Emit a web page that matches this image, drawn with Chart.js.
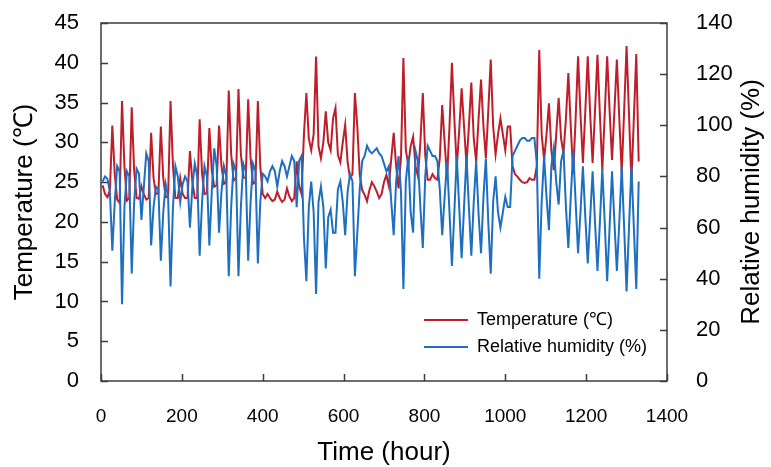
<!DOCTYPE html>
<html>
<head>
<meta charset="utf-8">
<script src="https://cdn.jsdelivr.net/npm/chart.js@4.4.1/dist/chart.umd.min.js"></script>
<style>
  html, body { margin: 0; padding: 0; background: #fff; }
  #wrap { width: 771px; height: 467px; }
</style>
</head>
<body>
<div id="wrap"><canvas id="chart" width="771" height="467"></canvas></div>
<script>
// readings every 6 hours, first one at hour 4 (four readings per day)
const startHour = 4;
const stepHours = 6;

// temperature (℃)
const temperature = [
  24.6, 23.5, 23.1, 24.0,   32.1, 26.0, 22.8, 22.4,   35.2, 27.0, 22.7, 23.0,
  34.4, 26.5, 23.0, 22.9,   24.5, 23.5, 22.8, 23.0,   31.2, 25.5, 23.5, 23.6,
  32.0, 25.5, 23.1, 23.2,   35.2, 27.0, 23.0, 23.0,   25.5, 23.5, 23.0, 23.0,
  28.9, 25.0, 23.0, 23.0,   32.9, 26.0, 23.5, 23.6,   31.8, 26.5, 24.4, 24.6,
  32.1, 27.0, 24.8, 25.0,   36.5, 28.5, 25.2, 25.5,   36.7, 28.5, 25.6, 25.5,
  35.4, 28.0, 24.8, 25.0,   35.2, 27.0, 23.5, 23.0,   23.5, 23.0, 22.6, 22.8,
  23.8, 23.0, 22.5, 22.8,   24.2, 23.2, 22.6, 23.0,   27.6, 24.5, 23.5, 31.0,
  36.2, 30.5, 29.0, 31.0,   40.8, 29.5, 28.0, 30.0,   33.9, 30.0, 29.0, 33.0,
  34.3, 28.4, 27.5, 30.0,   32.2, 27.5, 25.5, 26.0,   36.2, 32.0, 25.9, 24.0,
  23.4, 22.6, 24.0, 25.0,   24.5, 23.8, 23.0, 23.5,   25.0, 25.9, 24.5, 28.0,
  31.2, 27.0, 24.2, 28.0,   40.6, 29.0, 27.2, 29.5,   30.7, 27.0, 25.7, 30.0,
  36.2, 28.4, 25.3, 25.3,   26.0, 25.5, 25.3, 28.0,   34.7, 30.0, 25.5, 32.0,
  40.0, 33.0, 26.8, 31.5,   36.8, 32.0, 27.2, 32.0,   37.5, 30.5, 27.6, 33.0,
  37.9, 32.0, 28.0, 34.0,   40.4, 32.0, 28.5, 31.0,   33.0, 31.0, 29.0, 32.0,
  32.0, 27.0, 26.0, 25.7,   25.3, 25.0, 24.9, 25.0,   25.5, 25.3, 25.3, 27.0,
  41.6, 31.0, 27.8, 31.0,   34.9, 29.0, 26.5, 31.0,   35.6, 30.5, 28.6, 33.0,
  38.7, 32.0, 26.1, 33.0,   40.8, 33.5, 27.4, 34.0,   40.8, 33.5, 27.4, 34.0,
  41.0, 33.5, 26.5, 33.5,   40.8, 34.0, 27.8, 34.0,   40.4, 33.0, 26.1, 34.0,
  42.1, 33.5, 25.0, 33.0,   41.1, 27.6
];

// relative humidity (%)
const humidity = [
  78, 80, 79, 74,   51, 70, 84, 82,   30, 68, 82, 80,
  42, 70, 83, 81,   63, 76, 89, 86,   53, 68, 76, 75,
  47, 66, 77, 72,   37, 68, 84, 80,   70, 77, 80, 78,
  60, 76, 85, 80,   49, 70, 84, 80,   53, 74, 91, 84,
  58, 74, 84, 80,   41, 68, 85, 82,   41, 68, 85, 82,
  47, 70, 85, 82,   46, 70, 81, 80,   78, 82, 84, 82,
  76, 82, 86, 84,   80, 84, 88, 86,   68, 86, 88, 56,
  39, 68, 78, 66,   34, 70, 76, 68,   44, 64, 67, 58,
  58, 75, 78, 70,   57, 74, 81, 78,   41, 58, 75, 86,
  88, 92, 90, 89,   90, 91, 89, 88,   85, 82, 84, 70,
  57, 78, 88, 74,   36, 78, 88, 66,   58, 90, 86, 68,
  52, 80, 92, 90,   88, 88, 86, 75,   57, 72, 86, 66,
  45, 66, 88, 68,   48, 68, 88, 68,   49, 70, 86, 65,
  50, 72, 87, 62,   42, 70, 80, 66,   60, 66, 72, 68,
  68, 88, 90, 92,   94, 95, 95, 94,   94, 95, 95, 85,
  40, 70, 88, 72,   59, 84, 91, 78,   69, 86, 90, 68,
  52, 72, 90, 70,   50, 66, 84, 64,   46, 64, 82, 62,
  43, 62, 83, 62,   39, 60, 82, 62,   43, 62, 84, 60,
  35, 60, 84, 60,   36, 78
];

const hourTicks = [0, 200, 400, 600, 800, 1000, 1200, 1400];
const tempTicks = [0, 5, 10, 15, 20, 25, 30, 35, 40, 45];
const humidityTicks = [0, 20, 40, 60, 80, 100, 120, 140];

const hours = temperature.map((_, i) => startHour + i * stepHours);
const tempPoints = temperature.map((v, i) => ({ x: hours[i], y: v }));
const rhPoints = humidity.map((v, i) => ({ x: hours[i], y: v }));

const FONT = "'Liberation Sans', Arial, sans-serif";

// frame with inward tick marks, right-hand title and the in-plot legend
const framePlugin = {
    id: "frame",
    beforeDatasetsDraw(chart) {
        const { ctx, chartArea: a, scales } = chart;
        ctx.save();
        ctx.strokeStyle = "#3c3c3c";
        ctx.lineWidth = 1.5;
        ctx.strokeRect(a.left, a.top, a.right - a.left, a.bottom - a.top);
        ctx.beginPath();
        scales.x.ticks.forEach(t => {
            const p = Math.round(scales.x.getPixelForValue(t.value)) + 0.5;
            ctx.moveTo(p, a.bottom);
            ctx.lineTo(p, a.bottom - 7);
        });
        scales.y.ticks.forEach(t => {
            const p = Math.round(scales.y.getPixelForValue(t.value)) + 0.5;
            ctx.moveTo(a.left, p);
            ctx.lineTo(a.left + 7, p);
        });
        scales.y2.ticks.forEach(t => {
            const p = Math.round(scales.y2.getPixelForValue(t.value)) + 0.5;
            ctx.moveTo(a.right, p);
            ctx.lineTo(a.right - 7, p);
        });
        ctx.stroke();
        ctx.restore();
    },
    afterDraw(chart) {
        const { ctx, chartArea: a } = chart;
        ctx.save();
        // right axis title, reading bottom to top
        ctx.translate(752, (a.top + a.bottom) / 2);
        ctx.rotate(-Math.PI / 2);
        ctx.font = "26px " + FONT;
        ctx.fillStyle = "#000";
        ctx.textAlign = "center";
        ctx.textBaseline = "middle";
        ctx.fillText("Relative humidity (%)", 0, 0);
        ctx.restore();

        // legend
        ctx.save();
        ctx.font = "18px " + FONT;
        ctx.textBaseline = "middle";
        ctx.fillStyle = "#000";
        chart.data.datasets.forEach((ds, i) => {
            const y = a.bottom - 61 + i * 27;
            ctx.strokeStyle = ds.borderColor;
            ctx.lineWidth = 2;
            ctx.beginPath();
            ctx.moveTo(a.right - 243, y);
            ctx.lineTo(a.right - 199, y);
            ctx.stroke();
            ctx.fillText(ds.label, a.right - 190, y);
        });
        ctx.restore();
    }
};

// keep label spacing from pushing the plot area down
const fitSide = w => s => { s.width = w; s.paddingTop = 0; s.paddingBottom = 0; };

new Chart(document.getElementById("chart"), {
    type: "line",
    data: {
        datasets: [{
            label: "Temperature (℃)",
            data: tempPoints,
            yAxisID: "y",
            borderColor: "#BE1E2A",
            borderWidth: 2,
            pointRadius: 0,
            tension: 0,
            order: 1
        }, {
            label: "Relative humidity (%)",
            data: rhPoints,
            yAxisID: "y2",
            borderColor: "#1E6FBF",
            borderWidth: 2,
            pointRadius: 0,
            tension: 0,
            order: 0
        }]
    },
    options: {
        responsive: false,
        animation: false,
        layout: { padding: { top: 23, left: 0, right: 0, bottom: 0 } },
        plugins: { legend: { display: false }, tooltip: { enabled: false } },
        scales: {
            x: {
                type: "linear",
                min: 0,
                max: 1400,
                afterBuildTicks: s => { s.ticks = hourTicks.map(v => ({ value: v })); },
                afterFit: s => { s.height = 86; },
                grid: { display: false, drawTicks: false },
                border: { display: false },
                ticks: { font: { family: FONT, size: 19 }, color: "#000", padding: 24, maxRotation: 0, autoSkip: false, callback: v => String(v) },
                title: { display: true, text: "Time (hour)", color: "#000", font: { family: FONT, size: 26, lineHeight: 1 }, padding: { top: 0, bottom: 1 } }
            },
            y: {
                position: "left",
                min: 0,
                max: 45,
                afterBuildTicks: s => { s.ticks = tempTicks.map(v => ({ value: v })); },
                afterFit: fitSide(101),
                grid: { display: false, drawTicks: false },
                border: { display: false },
                ticks: { font: { family: FONT, size: 22 }, color: "#000", padding: 22 },
                title: { display: true, text: "Temperature (℃)", color: "#000", font: { family: FONT, size: 26, lineHeight: 1 }, padding: { top: 12, bottom: 0 } }
            },
            y2: {
                position: "right",
                min: 0,
                max: 140,
                afterBuildTicks: s => { s.ticks = humidityTicks.map(v => ({ value: v })); },
                afterFit: fitSide(104),
                grid: { display: false, drawTicks: false },
                border: { display: false },
                ticks: { font: { family: FONT, size: 22 }, color: "#000", padding: 29 }
            }
        }
    },
    plugins: [framePlugin]
});
</script>
</body>
</html>
